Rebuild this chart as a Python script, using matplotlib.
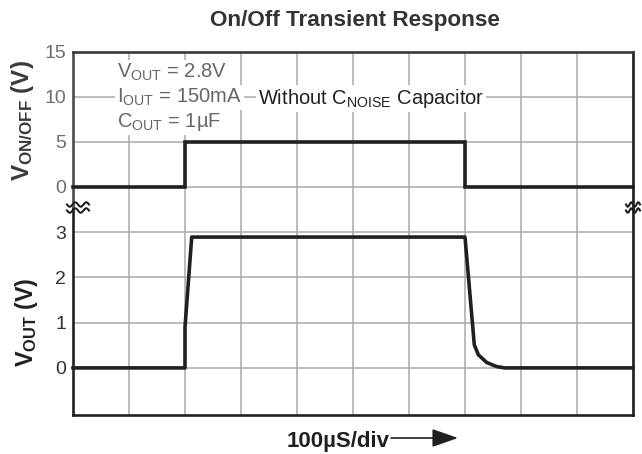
import numpy as np
import matplotlib
matplotlib.use("Agg")
import matplotlib.pyplot as plt
from matplotlib.lines import Line2D
from matplotlib.patches import FancyArrowPatch

plt.rcParams['font.family'] = ['Liberation Sans', 'DejaVu Sans']
plt.rcParams['mathtext.fontset'] = 'custom'
plt.rcParams['mathtext.rm'] = 'Liberation Sans'
plt.rcParams['mathtext.it'] = 'Liberation Sans:italic'
plt.rcParams['mathtext.bf'] = 'Liberation Sans:bold'
plt.rcParams['mathtext.sf'] = 'Liberation Sans'

# ---- data (time in microseconds, 100 us/div) ----
t_onoff = [0, 200, 200, 700, 700, 1000]
v_onoff = [0, 0, 5, 5, 0, 0]

t_out = [0, 200, 200, 212, 700, 716.6, 723.8, 738.7, 756.5, 771, 1000]
v_out = [0, 0, 0.9, 2.89, 2.89, 0.51, 0.29, 0.12, 0.03, 0.0, 0.0]

top_ticks = [0, 5, 10, 15]
bot_ticks = [0, 1, 2, 3]
x_ticks = list(range(0, 1001, 100))

W, H = 642, 454
INK = '#231f20'
GRID = '#a9a9a9'

def P(x, y):
    return (x / W, 1 - y / H)

fig = plt.figure(figsize=(W / 100, H / 100), dpi=100)
fig.patch.set_facecolor('white')

y_break = 209
ax1 = fig.add_axes([73 / W, (H - y_break) / H, 560 / W, (y_break - 52) / H])
ax2 = fig.add_axes([73 / W, (H - 415) / H, 560 / W, (415 - y_break) / H])

for ax in (ax1, ax2):
    ax.set_xlim(0, 1000)
    ax.set_xticks(x_ticks)
    ax.set_xticklabels([])
    ax.tick_params(length=0, pad=5)
    ax.grid(True, color=GRID, lw=1.1)
    ax.set_axisbelow(True)
    for s in ax.spines.values():
        s.set_color(INK)
        s.set_linewidth(1.9)

ax1.set_ylim(-2.5, 15)
ax1.set_yticks(top_ticks)
ax1.set_yticklabels([str(v) for v in top_ticks], fontsize=14, color='#6e6e6e')
ax1.spines['bottom'].set_visible(False)
ax1.spines['top'].set_color('#3a3a3a')
ax1.spines['left'].set_color('#4a4a4a')

ax2.set_ylim(-1.04, 3.51)
ax2.set_yticks(bot_ticks)
ax2.set_yticklabels([str(v) for v in bot_ticks], fontsize=14, color='#333333')
ax2.spines['top'].set_visible(False)

ax1.plot(t_onoff, v_onoff, color=INK, lw=2.6, solid_joinstyle='miter', zorder=3, clip_on=False)
ax2.plot(t_out, v_out, color=INK, lw=2.6, solid_joinstyle='round', zorder=3, clip_on=False)

# title
fig.text(*P(355, 26), "On/Off Transient Response", ha='center', va='baseline',
         fontsize=16.2, fontweight='bold', color='#333333')

# annotations
box = dict(facecolor='white', edgecolor='none', pad=1.5)
fig.text(*P(117, 78), r"$\mathrm{V_{OUT}}$ = 2.8V", ha='left', va='baseline',
         fontsize=14.5, color='#666666', bbox=box)
fig.text(*P(117, 103), r"$\mathrm{I_{OUT}}$ = 150mA", ha='left', va='baseline',
         fontsize=14.5, color='#666666', bbox=box)
fig.text(*P(117, 127), r"$\mathrm{C_{OUT}}$ = 1µF", ha='left', va='baseline',
         fontsize=14.5, color='#666666', bbox=box)
fig.text(*P(258, 104), r"Without $\mathrm{C_{NOISE}}$ Capacitor", ha='left', va='baseline',
         fontsize=14.5, color=INK, bbox=box)

# y labels
fig.text(*P(23, 120), r"$\mathbf{V_{ON/OFF}}$ (V)", rotation=90, ha='center', va='center',
         fontsize=17.5, fontweight='bold', color='#3a3a3a')
fig.text(*P(26, 322), r"$\mathbf{V_{OUT}}$ (V)", rotation=90, ha='center', va='center',
         fontsize=16.8, fontweight='bold', color=INK)

# x label with arrow
fig.text(*P(287, 447), "100µS/div", ha='left', va='baseline',
         fontsize=16, fontweight='bold', color=INK)
fig.add_artist(FancyArrowPatch(
    P(391, 438), P(458, 438), transform=fig.transFigure,
    arrowstyle='-|>,head_length=1.0,head_width=0.35', mutation_scale=16,
    shrinkA=0, shrinkB=0, lw=1.2, color=INK))

# axis break symbols
def wiggle(x0, width, yc):
    xs = np.linspace(x0, x0 + width, 40)
    ys = yc + 2.2 * np.sin(2 * np.pi * (xs - x0) / (width / 2))
    fx = xs / W
    fy = 1 - ys / H
    fig.add_artist(Line2D(fx, fy, transform=fig.transFigure, color=INK, lw=1.5))

for yc in (204.5, 210.5):
    wiggle(67, 22, yc)
    wiggle(626, 14, yc)

fig.savefig("out.png", dpi=100, facecolor='white')
